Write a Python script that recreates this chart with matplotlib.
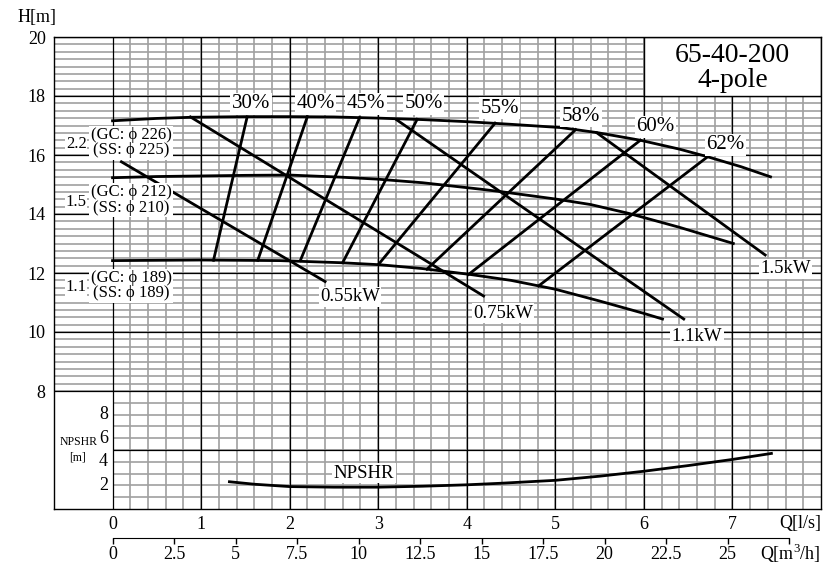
import matplotlib
matplotlib.use('Agg')
import matplotlib.pyplot as plt
import numpy as np
from matplotlib.patches import Rectangle

plt.rcParams['font.family'] = ['Liberation Serif', 'DejaVu Serif']
plt.rcParams['mathtext.fontset'] = 'custom'
plt.rcParams['mathtext.rm'] = 'Liberation Serif'

# H-Q curves, Q in l/s, H in m
q_22 = [0, 0.5, 0.9, 1.5, 2.0, 2.5, 3.0, 3.5, 4.0, 4.5, 5.06, 5.47, 5.96, 6.4, 6.72, 7.1, 7.43]
h_22 = [17.16, 17.24, 17.28, 17.3, 17.3, 17.29, 17.25, 17.2, 17.13, 17.04, 16.93, 16.76, 16.5, 16.2, 15.94, 15.6, 15.26]
q_15 = [0, 0.5, 1.0, 1.5, 2.0, 2.57, 3.0, 3.5, 4.16, 4.38, 5.02, 5.4, 5.83, 6.4, 7.01]
h_15 = [15.23, 15.27, 15.29, 15.31, 15.32, 15.25, 15.18, 15.06, 14.84, 14.76, 14.5, 14.32, 14.02, 13.55, 13.0]
q_11 = [0, 1.0, 1.89, 2.57, 3.02, 3.5, 4.04, 4.5, 5.0, 5.5, 6.0, 6.21]
h_11 = [12.42, 12.44, 12.42, 12.35, 12.28, 12.15, 11.95, 11.75, 11.45, 11.05, 10.63, 10.44]
curve_kw = ['2.2', '1.5', '1.1']
curve_gc = ['(GC: \u03d5 226)', '(GC: \u03d5 212)', '(GC: \u03d5 189)']
curve_ss = ['(SS: \u03d5 225)', '(SS: \u03d5 210)', '(SS: \u03d5 189)']

# iso-efficiency lines, end on the 2.2 curve (top) and the 1.1 curve (bottom)
eff_labels = ['30%', '40%', '45%', '50%', '55%', '58%', '60%', '62%']
eff_q_top = [1.52, 2.20, 2.79, 3.44, 4.32, 5.23, 5.96, 6.72]
eff_h_top = [17.29, 17.30, 17.27, 17.21, 17.08, 16.86, 16.50, 15.94]
eff_q_bot = [1.14, 1.64, 2.12, 2.60, 3.00, 3.55, 4.02, 4.81]
eff_h_bot = [12.43, 12.43, 12.42, 12.36, 12.28, 12.13, 11.95, 11.56]

# motor power lines
kw_labels = ['0.55kW', '0.75kW', '1.1kW', '1.5kW']
kw_q_start = [0.1, 0.88, 3.21, 5.47]
kw_h_start = [15.77, 17.29, 17.19, 16.75]
kw_q_end = [2.40, 4.19, 6.45, 7.37]
kw_h_end = [11.71, 11.22, 10.44, 12.61]

# NPSHR curve
npsh_q = [1.32, 1.6, 2.0, 2.5, 3.0, 3.5, 4.0, 4.38, 5.0, 5.5, 6.0, 6.5, 7.0, 7.44]
npsh_m = [2.31, 2.1, 1.9, 1.85, 1.85, 1.93, 2.05, 2.18, 2.43, 2.78, 3.2, 3.68, 4.2, 4.71]

h_ticks = [8, 10, 12, 14, 16, 18, 20]
npsh_ticks = [2, 4, 6, 8]
q_ticks = [0, 1, 2, 3, 4, 5, 6, 7]
m3h_ticks = [0, 2.5, 5, 7.5, 10, 12.5, 15, 17.5, 20, 22.5, 25, 27.5]
m3h_labels = ['0', '2.5', '5', '7.5', '10', '12.5', '15', '17.5', '20', '22.5', '25', '']


def npsh_to_h(v):
    # NPSHR panel: 0..10 m drawn between H=4 and H=8
    return 4 + np.asarray(v) * 0.4


fig = plt.figure(figsize=(8.25, 5.66), dpi=100)
ax = fig.add_axes([54 / 825, 57 / 566, 767 / 825, 472 / 566])
xl, xr = -0.661, 8.0
ax.set_xlim(xl, xr)
ax.set_ylim(4, 20)

grey = '#a0a0a0'
# grid
ax.hlines(np.arange(8, 20.01, 0.25), xl, xr, color=grey, lw=1.2, zorder=1)
ax.hlines(npsh_to_h(np.arange(1, 10)), 0, xr, color=grey, lw=1.2, zorder=1)
ax.vlines(np.arange(0.2, 8, 0.2), 4, 20, color=grey, lw=1.2, zorder=1)
ax.hlines(h_ticks, xl, xr, color='black', lw=0.9, zorder=1.5)
ax.hlines(npsh_to_h([5]), 0, xr, color='black', lw=0.9, zorder=1.5)
ax.vlines(q_ticks, 4, 20, color='black', lw=0.9, zorder=1.5)

lw = 2.0
ax.plot(q_22, h_22, color='black', lw=lw, zorder=3)
ax.plot(q_15, h_15, color='black', lw=lw, zorder=3)
ax.plot(q_11, h_11, color='black', lw=lw, zorder=3)
for i in range(len(eff_labels)):
    ax.plot([eff_q_bot[i], eff_q_top[i]], [eff_h_bot[i], eff_h_top[i]], color='black', lw=lw, zorder=3)
for i in range(len(kw_labels)):
    ax.plot([kw_q_start[i], kw_q_end[i]], [kw_h_start[i], kw_h_end[i]], color='black', lw=lw, zorder=3)
ax.plot(npsh_q, npsh_to_h(npsh_m), color='black', lw=lw, zorder=3)

box = dict(fc='white', ec='none', pad=1.0)
# efficiency labels
eff_pos = [(1.565, 17.73), (2.29, 17.73), (2.86, 17.73), (3.51, 17.73),
           (4.37, 17.59), (5.29, 17.32), (6.13, 16.95), (6.92, 16.34)]
for lab, (x, y) in zip(eff_labels, eff_pos):
    ax.text(x, y, lab, ha='center', va='center', fontsize=15, bbox=box, zorder=5)
# power labels
kw_pos = [(2.68, 11.19), (4.41, 10.64), (6.60, 9.86), (7.60, 12.14)]
for lab, (x, y) in zip(kw_labels, kw_pos):
    ax.text(x, y, lab, ha='center', va='center', fontsize=13.5, bbox=box, zorder=5)
# impeller labels
curve_y = [16.42, 14.47, 11.57]
for kw, gc, ss, y in zip(curve_kw, curve_gc, curve_ss, curve_y):
    ax.text(-0.41, y - 0.05, kw, ha='center', va='center', fontsize=12, bbox=dict(fc='white', ec='none', pad=0.5), zorder=5)
    ax.text(0.21, y, gc + '\n' + ss, ha='center', va='center', fontsize=12, linespacing=0.95,
            bbox=dict(fc='white', ec='none', pad=1.0), zorder=5)

ax.text(2.84, 5.22, 'NPSHR', ha='center', va='center', fontsize=13.5, bbox=box, zorder=5)

# title box
ax.add_patch(Rectangle((6, 18), 2, 2, fc='white', ec='black', lw=1.0, zorder=4))
ax.text(7, 19.36, '65-40-200', ha='center', va='center', fontsize=20, zorder=5)
ax.text(7, 18.52, '4-pole', ha='center', va='center', fontsize=20, zorder=5)

# axes and ticks
ax.set_xticks(q_ticks)
ax.set_yticks(h_ticks)
ax.tick_params(axis='both', length=0, labelsize=13)
ax.tick_params(axis='x', pad=5)
ax.tick_params(axis='y', pad=6)
for s in ax.spines.values():
    s.set_linewidth(1.0)
    s.set_zorder(6)

for v in npsh_ticks:
    ax.text(-0.05, npsh_to_h(v), str(v), ha='right', va='center', fontsize=13)
ax.text(-0.38, npsh_to_h(5.68), 'NPSHR', ha='center', va='center', fontsize=8.5)
ax.text(-0.40, npsh_to_h(4.33), '[m]', ha='center', va='center', fontsize=8.5)

ax.text(-0.022, 1.042, 'H[m]', transform=ax.transAxes, ha='center', va='center', fontsize=13)
ax.text(1.0, -0.0297, 'Q[l/s]', transform=ax.transAxes, ha='right', va='center', fontsize=13)
ax.text(1.0, -0.0932, 'Q[m$^{\\mathrm{3}}$/h]', transform=ax.transAxes, ha='right', va='center', fontsize=13)

sec = ax.secondary_xaxis(-0.0614, functions=(lambda q: q * 3.6, lambda m: m / 3.6))
sec.set_xticks(m3h_ticks)
sec.set_xticklabels(m3h_labels)
sec.spines['bottom'].set_bounds(0, 27.5)
sec.tick_params(axis='x', direction='out', length=4, width=1.0, pad=2, labelsize=13)

fig.savefig('out.png', dpi=100)
